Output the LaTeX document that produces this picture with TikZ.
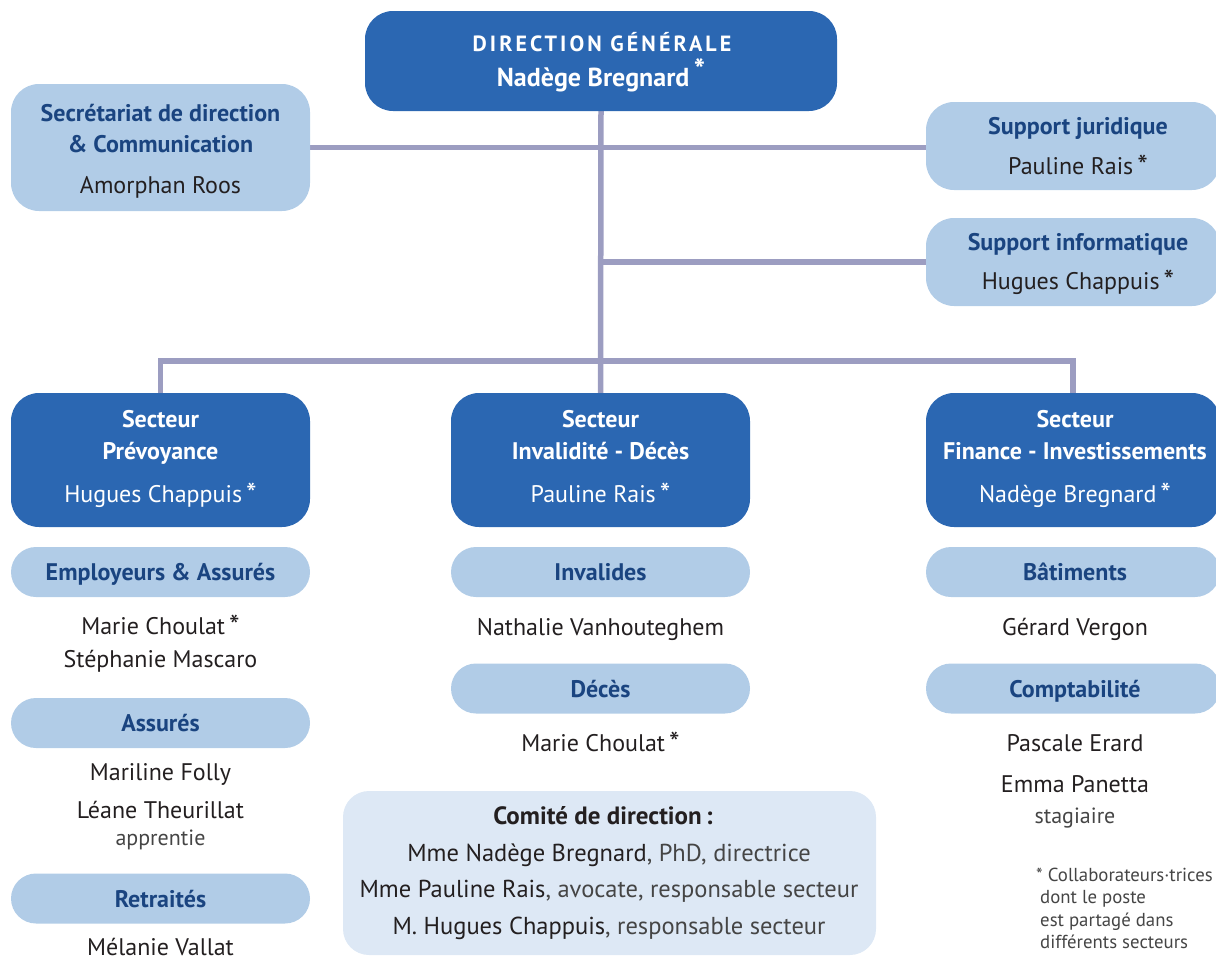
\documentclass[tikz,border=0pt]{standalone}
\usepackage{fontspec}
\setmainfont{PT Sans}
\usetikzlibrary{backgrounds}
\definecolor{dblue}{HTML}{2B67B2}
\definecolor{lblue}{HTML}{B1CCE7}
\definecolor{vlblue}{HTML}{DDE8F5}
\definecolor{navy}{HTML}{1A4480}
\definecolor{connc}{HTML}{9C9DC1}
\definecolor{txt}{HTML}{231F20}
\definecolor{ltxt}{HTML}{454545}
\newcommand\astx{\,\raisebox{-2.5pt}{\fontsize{30}{30}\selectfont *}}
\begin{document}
\begin{tikzpicture}[x=1pt,y=-1pt,
  dbox/.style={fill=dblue, draw=none, rounded corners=28pt, inner sep=0pt},
  lbox/.style={fill=lblue, draw=none, rounded corners=28pt, inner sep=0pt},
  pill/.style={fill=lblue, draw=none, rounded corners=25pt, inner sep=0pt, minimum height=50pt},
  cbox/.style={fill=vlblue, draw=none, rounded corners=26pt, inner sep=0pt},
  conn/.style={draw=connc, line width=5.5pt},
  wh/.style={anchor=base, text=white, font=\fontsize{24}{28}\selectfont, inner sep=0pt},
  whb/.style={anchor=base, text=white, font=\bfseries\fontsize{24}{28}\selectfont, inner sep=0pt},
  nvb/.style={anchor=base, text=navy, font=\bfseries\fontsize{24}{28}\selectfont, inner sep=0pt},
  nm/.style={anchor=base, text=txt, font=\fontsize{24}{28}\selectfont, inner sep=0pt},
  lt/.style={anchor=base, text=ltxt, font=\fontsize{22}{26}\selectfont, inner sep=0pt},
  fn/.style={anchor=base west, text=ltxt, font=\fontsize{18.8}{22}\selectfont, inner sep=0pt},
]
\useasboundingbox (0,0) rectangle (1216,961);

% Direction generale
\node[dbox, minimum width=472pt, minimum height=100pt] (dg) at (601,61) {};
\node[whb, font=\bfseries\fontsize{22}{26}\selectfont\addfontfeature{LetterSpace=14}] (dgt) at (602,51) {DIRECTION GÉNÉRALE};
\node[whb, font=\bfseries\fontsize{26}{30}\selectfont] (dgn) at (601,86) {Nadège Bregnard\,\raisebox{.2em}{\fontsize{30}{30}\selectfont *}};

% Secretariat
\node[lbox, minimum width=299pt, minimum height=127pt] (sec) at (160.5,147.5) {};
\node[nvb] (sect1) at (160.5,121) {Secrétariat de direction};
\node[nvb] (sect2) at (160.5,152) {\& Communication};
\node[nm] (sect3) at (160.5,193) {Amorphan Roos};

% Supports
\node[lbox, minimum width=294pt, minimum height=88pt] (jur) at (1073,146) {};
\node[nvb] (jurt) at (1078,134) {Support juridique};
\node[nm] (jurn) at (1078,174) {Pauline Rais\astx};
\node[lbox, minimum width=294pt, minimum height=88pt] (info) at (1073,262) {};
\node[nvb] (infot) at (1078,250) {Support informatique};
\node[nm] (infon) at (1078,289) {Hugues Chappuis\astx};

% Sectors
\node[dbox, minimum width=299pt, minimum height=134pt] (prev) at (160.5,460) {};
\node[whb] (prevt1) at (160.5,427) {Secteur};
\node[whb] (prevt2) at (160.5,459) {Prévoyance};
\node[wh] (prevn) at (160.5,502) {Hugues Chappuis\astx};

\node[dbox, minimum width=299pt, minimum height=134pt] (inv) at (600.5,460) {};
\node[whb] (invt1) at (600.5,427) {Secteur};
\node[whb] (invt2) at (600.5,459) {Invalidité - Décès};
\node[wh] (invn) at (600.5,502) {Pauline Rais\astx};

\node[dbox, minimum width=294pt, minimum height=134pt] (fin) at (1073,460) {};
\node[whb] (fint1) at (1075,427) {Secteur};
\node[whb] (fint2) at (1075,459) {Finance - Investissements};
\node[wh] (finn) at (1075,502) {Nadège Bregnard\astx};

% Left column
\node[pill, minimum width=299pt] (ea) at (160.5,572) {};
\node[nvb] (eat) at (160.5,580) {Employeurs \& Assurés};
\node[nm] (ea1) at (160.5,634) {Marie Choulat\astx};
\node[nm] (ea2) at (160.5,667) {Stéphanie Mascaro};
\node[pill, minimum width=299pt] (ass) at (160.5,723) {};
\node[nvb] (asst) at (160.5,731) {Assurés};
\node[nm] (ass1) at (160.5,780) {Mariline Folly};
\node[nm] (ass2) at (160.5,818) {Léane Theurillat};
\node[lt] (ass3) at (160.5,845) {apprentie};
\node[pill, minimum width=299pt] (ret) at (160.5,898.5) {};
\node[nvb] (rett) at (160.5,907) {Retraités};
\node[nm] (ret1) at (160.5,955) {Mélanie Vallat};

% Middle column
\node[pill, minimum width=299pt] (invd) at (600.5,572) {};
\node[nvb] (invdt) at (600.5,580) {Invalides};
\node[nm] (invd1) at (600.5,635) {Nathalie Vanhouteghem};
\node[pill, minimum width=299pt] (dec) at (600.5,688.5) {};
\node[nvb] (dect) at (600.5,697) {Décès};
\node[nm] (dec1) at (600.5,751) {Marie Choulat\astx};

% Right column
\node[pill, minimum width=294pt] (bat) at (1073,572) {};
\node[nvb] (batt) at (1075,580) {Bâtiments};
\node[nm] (bat1) at (1075,635) {Gérard Vergon};
\node[pill, minimum width=294pt] (comp) at (1073,688.5) {};
\node[nvb] (compt) at (1075,697) {Comptabilité};
\node[nm] (comp1) at (1075,751) {Pascale Erard};
\node[nm] (comp2) at (1075,792) {Emma Panetta};
\node[lt] (comp3) at (1075,823) {stagiaire};

% Comite
\node[cbox, minimum width=533pt, minimum height=164pt] (cd) at (609.5,873) {};
\node[anchor=base, inner sep=0pt, text=txt, font=\bfseries\fontsize{25}{29}\selectfont] (cd0) at (603,824) {Comité de direction\,:};
\node[nm, font=\fontsize{24.5}{28}\selectfont] (cd1) at (609,861) {Mme Nadège Bregnard{\color{ltxt}, PhD, directrice}};
\node[nm, font=\fontsize{24.5}{28}\selectfont] (cd2) at (609,897) {Mme Pauline Rais{\color{ltxt}, avocate, responsable secteur}};
\node[nm, font=\fontsize{24.5}{28}\selectfont] (cd3) at (609,934) {M. Hugues Chappuis{\color{ltxt}, responsable secteur}};

% Footnote
\node[fn] (fn1) at (1036,881) {* Collaborateurs·trices};
\node[fn] (fn2) at (1040,903) {dont le poste};
\node[fn] (fn3) at (1040,926) {est partagé dans};
\node[fn] (fn4) at (1040,948) {différents secteurs};

% Connectors
\coordinate (jn) at ([yshift=32pt]inv.north);
\begin{scope}[on background layer]
\draw[conn] (dg.south) -- (inv.north);
\draw[conn] (sec.east) -- (sec.east -| jur.west);
\draw[conn] (info.west) -- (info.west -| dg.south);
\draw[conn] (prev.north) |- (jn) -| (fin.north);
\end{scope}
\end{tikzpicture}
\end{document}
